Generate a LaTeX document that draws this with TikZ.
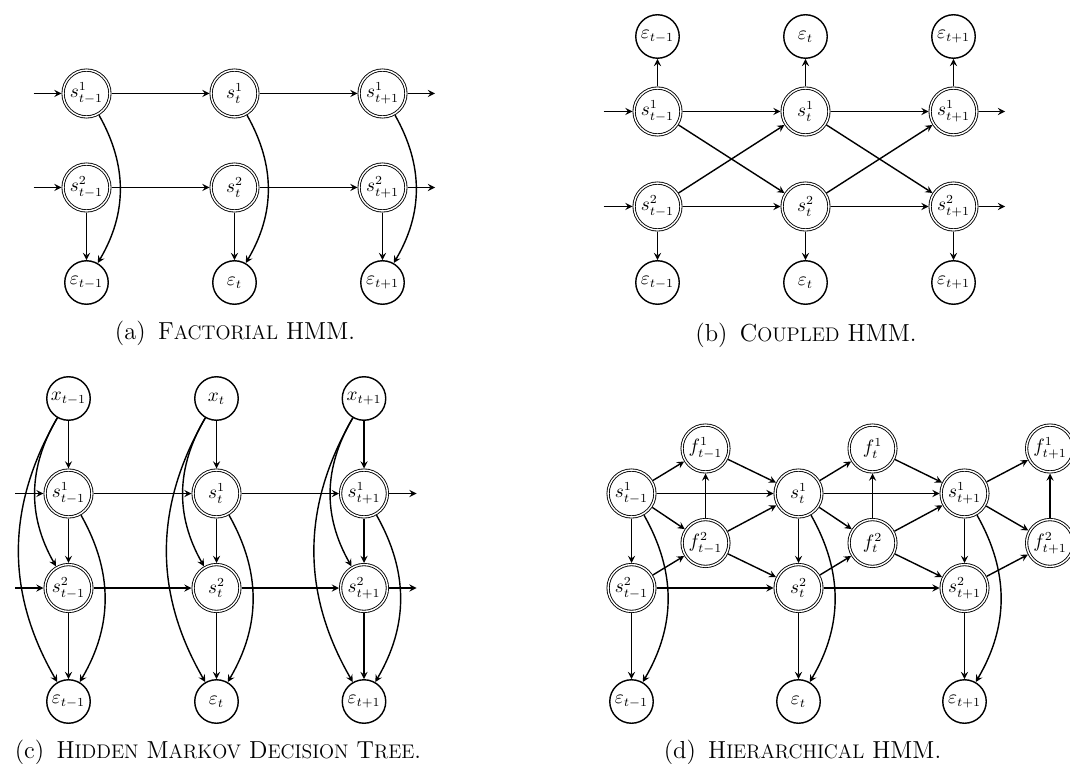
\documentclass[tikz,border=0pt]{standalone}
\usetikzlibrary{arrows}
\newcommand{\smc}[1]{{\fontsize{11.2}{13}\selectfont #1}}
\begin{document}
\begin{tikzpicture}[>=stealth,
  hid/.style={draw, circle, double, line width=0.5pt, double distance=0.8pt, minimum size=0.937cm, inner sep=0pt, outer sep=0.9pt, font=\fontsize{10.5}{12}\selectfont},
  obs/.style={draw, circle, line width=0.8pt, minimum size=0.87cm, inner sep=0pt, font=\fontsize{10.5}{12}\selectfont},
  arr/.style={->, line width=0.8pt},
  capt/.style={font=\fontsize{14}{17}\selectfont}]
\useasboundingbox (0,0) rectangle (21.4,-15.28);

% (a) factorial HMM
\node[hid] (a-s1-m) at (1.73,-1.87) {$s^1_{t-1}$};
\node[hid] (a-s1-t) at (4.69,-1.87) {$s^1_t$};
\node[hid] (a-s1-p) at (7.65,-1.87) {$s^1_{t+1}$};
\node[hid] (a-s2-m) at (1.73,-3.75) {$s^2_{t-1}$};
\node[hid] (a-s2-t) at (4.69,-3.75) {$s^2_t$};
\node[hid] (a-s2-p) at (7.65,-3.75) {$s^2_{t+1}$};
\node[obs] (a-e-m) at (1.73,-5.65) {$\varepsilon_{t-1}$};
\node[obs] (a-e-t) at (4.69,-5.65) {$\varepsilon_t$};
\node[obs] (a-e-p) at (7.65,-5.65) {$\varepsilon_{t+1}$};
\coordinate (a-in1) at (0.67,-1.87);
\coordinate (a-in2) at (0.67,-3.75);
\coordinate (a-out1) at (8.7,-1.87);
\coordinate (a-out2) at (8.7,-3.75);
\draw[arr] (a-in1) -- (a-s1-m);
\draw[arr] (a-s1-m) -- (a-s1-t);
\draw[arr] (a-s1-t) -- (a-s1-p);
\draw[arr] (a-s1-p) -- (a-out1);
\draw[arr] (a-in2) -- (a-s2-m);
\draw[arr] (a-s2-m) -- (a-s2-t);
\draw[arr] (a-s2-t) -- (a-s2-p);
\draw[arr] (a-s2-p) -- (a-out2);
\draw[arr] (a-s2-m) -- (a-e-m);
\draw[arr] (a-s2-t) -- (a-e-t);
\draw[arr] (a-s2-p) -- (a-e-p);
\draw[arr] (a-s1-m) to[bend left] (a-e-m);
\draw[arr] (a-s1-t) to[bend left] (a-e-t);
\draw[arr] (a-s1-p) to[bend left] (a-e-p);
\node[capt] (a-cap) at (4.7,-6.66) {(a)\enspace F\smc{ACTORIAL} HMM.};

% (b) coupled HMM
\node[obs] (b-u-m) at (13.15,-0.73) {$\varepsilon_{t-1}$};
\node[obs] (b-u-t) at (16.11,-0.73) {$\varepsilon_t$};
\node[obs] (b-u-p) at (19.07,-0.73) {$\varepsilon_{t+1}$};
\node[hid] (b-s1-m) at (13.15,-2.23) {$s^1_{t-1}$};
\node[hid] (b-s1-t) at (16.11,-2.23) {$s^1_t$};
\node[hid] (b-s1-p) at (19.07,-2.23) {$s^1_{t+1}$};
\node[hid] (b-s2-m) at (13.15,-4.13) {$s^2_{t-1}$};
\node[hid] (b-s2-t) at (16.11,-4.13) {$s^2_t$};
\node[hid] (b-s2-p) at (19.07,-4.13) {$s^2_{t+1}$};
\node[obs] (b-e-m) at (13.15,-5.65) {$\varepsilon_{t-1}$};
\node[obs] (b-e-t) at (16.11,-5.65) {$\varepsilon_t$};
\node[obs] (b-e-p) at (19.07,-5.65) {$\varepsilon_{t+1}$};
\coordinate (b-in1) at (12.07,-2.23);
\coordinate (b-in2) at (12.07,-4.13);
\coordinate (b-out1) at (20.1,-2.23);
\coordinate (b-out2) at (20.1,-4.13);
\draw[arr] (b-in1) -- (b-s1-m);
\draw[arr] (b-s1-m) -- (b-s1-t);
\draw[arr] (b-s1-t) -- (b-s1-p);
\draw[arr] (b-s1-p) -- (b-out1);
\draw[arr] (b-in2) -- (b-s2-m);
\draw[arr] (b-s2-m) -- (b-s2-t);
\draw[arr] (b-s2-t) -- (b-s2-p);
\draw[arr] (b-s2-p) -- (b-out2);
\draw[arr] (b-s1-m) -- (b-s2-t);
\draw[arr] (b-s1-t) -- (b-s2-p);
\draw[arr] (b-s2-m) -- (b-s1-t);
\draw[arr] (b-s2-t) -- (b-s1-p);
\draw[arr] (b-s1-m) -- (b-u-m);
\draw[arr] (b-s1-t) -- (b-u-t);
\draw[arr] (b-s1-p) -- (b-u-p);
\draw[arr] (b-s2-m) -- (b-e-m);
\draw[arr] (b-s2-t) -- (b-e-t);
\draw[arr] (b-s2-p) -- (b-e-p);
\node[capt] (b-cap) at (16.12,-6.7) {(b)\enspace C\smc{OUPLED} HMM.};

% (c) hidden Markov decision tree
\node[obs] (c-x-m) at (1.37,-7.97) {$x_{t-1}$};
\node[obs] (c-x-t) at (4.33,-7.97) {$x_t$};
\node[obs] (c-x-p) at (7.28,-7.97) {$x_{t+1}$};
\node[hid] (c-s1-m) at (1.37,-9.87) {$s^1_{t-1}$};
\node[hid] (c-s1-t) at (4.33,-9.87) {$s^1_t$};
\node[hid] (c-s1-p) at (7.28,-9.87) {$s^1_{t+1}$};
\node[hid] (c-s2-m) at (1.37,-11.76) {$s^2_{t-1}$};
\node[hid] (c-s2-t) at (4.33,-11.76) {$s^2_t$};
\node[hid] (c-s2-p) at (7.28,-11.76) {$s^2_{t+1}$};
\node[obs] (c-e-m) at (1.37,-14.03) {$\varepsilon_{t-1}$};
\node[obs] (c-e-t) at (4.33,-14.03) {$\varepsilon_t$};
\node[obs] (c-e-p) at (7.28,-14.03) {$\varepsilon_{t+1}$};
\coordinate (c-in1) at (0.3,-9.87);
\coordinate (c-in2) at (0.3,-11.76);
\coordinate (c-out1) at (8.33,-9.87);
\coordinate (c-out2) at (8.33,-11.76);
\draw[arr] (c-in1) -- (c-s1-m);
\draw[arr] (c-s1-m) -- (c-s1-t);
\draw[arr] (c-s1-t) -- (c-s1-p);
\draw[arr] (c-s1-p) -- (c-out1);
\draw[arr] (c-in2) -- (c-s2-m);
\draw[arr] (c-s2-m) -- (c-s2-t);
\draw[arr] (c-s2-t) -- (c-s2-p);
\draw[arr] (c-s2-p) -- (c-out2);
\draw[arr] (c-x-m) -- (c-s1-m);
\draw[arr] (c-x-t) -- (c-s1-t);
\draw[arr] (c-x-p) -- (c-s1-p);
\draw[arr] (c-s1-m) -- (c-s2-m);
\draw[arr] (c-s1-t) -- (c-s2-t);
\draw[arr] (c-s1-p) -- (c-s2-p);
\draw[arr] (c-s2-m) -- (c-e-m);
\draw[arr] (c-s2-t) -- (c-e-t);
\draw[arr] (c-s2-p) -- (c-e-p);
\draw[arr] (c-x-m) to[bend right] (c-s2-m);
\draw[arr] (c-x-t) to[bend right] (c-s2-t);
\draw[arr] (c-x-p) to[bend right] (c-s2-p);
\draw[arr] (c-x-m) to[bend right] (c-e-m);
\draw[arr] (c-x-t) to[bend right] (c-e-t);
\draw[arr] (c-x-p) to[bend right] (c-e-p);
\draw[arr] (c-s1-m) to[bend left] (c-e-m);
\draw[arr] (c-s1-t) to[bend left] (c-e-t);
\draw[arr] (c-s1-p) to[bend left] (c-e-p);
\node[capt] (c-cap) at (4.36,-15.04) {(c)\enspace H\smc{IDDEN} M\smc{ARKOV} D\smc{ECISION} T\smc{REE}.};

% (d) hierarchical HMM
\node[hid] (d-s1-m) at (12.63,-9.87) {$s^1_{t-1}$};
\node[hid] (d-s1-t) at (15.97,-9.87) {$s^1_t$};
\node[hid] (d-s1-p) at (19.29,-9.87) {$s^1_{t+1}$};
\node[hid] (d-s2-m) at (12.63,-11.76) {$s^2_{t-1}$};
\node[hid] (d-s2-t) at (15.97,-11.76) {$s^2_t$};
\node[hid] (d-s2-p) at (19.29,-11.76) {$s^2_{t+1}$};
\node[hid] (d-f1-m) at (14.11,-8.97) {$f^1_{t-1}$};
\node[hid] (d-f1-t) at (17.45,-8.97) {$f^1_t$};
\node[hid] (d-f1-p) at (21.0,-8.97) {$f^1_{t+1}$};
\node[hid] (d-f2-m) at (14.11,-10.86) {$f^2_{t-1}$};
\node[hid] (d-f2-t) at (17.45,-10.86) {$f^2_t$};
\node[hid] (d-f2-p) at (21.0,-10.86) {$f^2_{t+1}$};
\node[obs] (d-e-m) at (12.63,-14.03) {$\varepsilon_{t-1}$};
\node[obs] (d-e-t) at (15.97,-14.03) {$\varepsilon_t$};
\node[obs] (d-e-p) at (19.29,-14.03) {$\varepsilon_{t+1}$};
\draw[arr] (d-s1-m) -- (d-s1-t);
\draw[arr] (d-s1-t) -- (d-s1-p);
\draw[arr] (d-s2-m) -- (d-s2-t);
\draw[arr] (d-s2-t) -- (d-s2-p);
\draw[arr] (d-s1-m) -- (d-f1-m);
\draw[arr] (d-s1-t) -- (d-f1-t);
\draw[arr] (d-s1-p) -- (d-f1-p);
\draw[arr] (d-s1-m) -- (d-f2-m);
\draw[arr] (d-s1-t) -- (d-f2-t);
\draw[arr] (d-s1-p) -- (d-f2-p);
\draw[arr] (d-s2-m) -- (d-f2-m);
\draw[arr] (d-s2-t) -- (d-f2-t);
\draw[arr] (d-s2-p) -- (d-f2-p);
\draw[arr] (d-f2-m) -- (d-f1-m);
\draw[arr] (d-f2-t) -- (d-f1-t);
\draw[arr] (d-f2-p) -- (d-f1-p);
\draw[arr] (d-f1-m) -- (d-s1-t);
\draw[arr] (d-f1-t) -- (d-s1-p);
\draw[arr] (d-f2-m) -- (d-s1-t);
\draw[arr] (d-f2-t) -- (d-s1-p);
\draw[arr] (d-f2-m) -- (d-s2-t);
\draw[arr] (d-f2-t) -- (d-s2-p);
\draw[arr] (d-s1-m) -- (d-s2-m);
\draw[arr] (d-s1-t) -- (d-s2-t);
\draw[arr] (d-s1-p) -- (d-s2-p);
\draw[arr] (d-s2-m) -- (d-e-m);
\draw[arr] (d-s2-t) -- (d-e-t);
\draw[arr] (d-s2-p) -- (d-e-p);
\draw[arr] (d-s1-m) to[bend left] (d-e-m);
\draw[arr] (d-s1-t) to[bend left] (d-e-t);
\draw[arr] (d-s1-p) to[bend left] (d-e-p);
\node[capt] (d-cap) at (16.05,-15.04) {(d)\enspace H\smc{IERARCHICAL} HMM.};
\end{tikzpicture}
\end{document}
